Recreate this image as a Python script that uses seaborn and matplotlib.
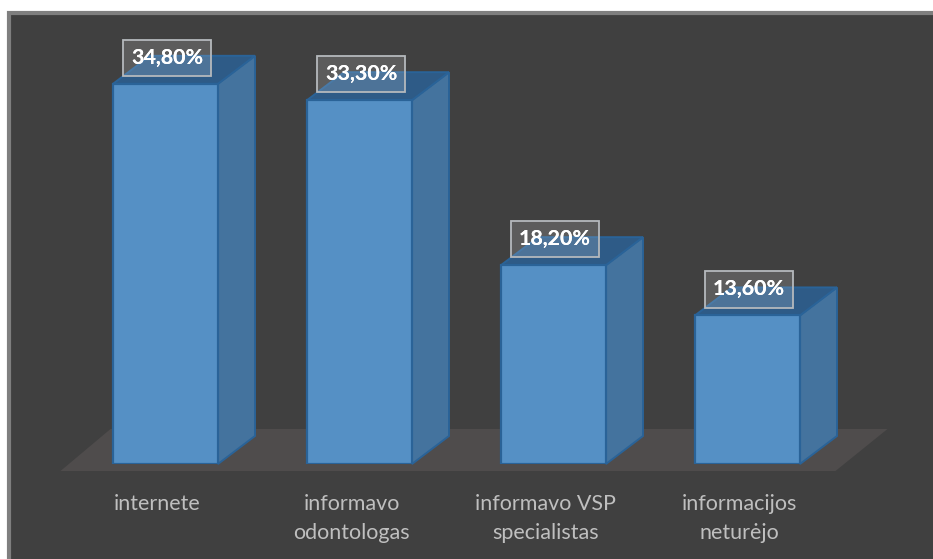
import matplotlib
matplotlib.use("Agg")
import matplotlib.pyplot as plt
import numpy as np
import pandas as pd
import seaborn as sns
from matplotlib.patches import Polygon, Rectangle

categories = ["internete", "informavo\nodontologas", "informavo VSP\nspecialistas", "informacijos\nneturėjo"]
values = [34.8, 33.3, 18.2, 13.6]
value_labels = ["34,80%", "33,30%", "18,20%", "13,60%"]

W, H = 933, 559
BG = "#404040"

sns.set_theme(style="white")
plt.rcParams["font.family"] = ["Lato", "DejaVu Sans"]

fig = plt.figure(figsize=(W / 100, H / 100), dpi=100, facecolor="white")

# dark panel, only left and top border visible
fig.add_artist(Rectangle((8.5 / W, 1 - 12.5 / H), 1, -1, transform=fig.transFigure,
                         facecolor=BG, edgecolor="#7f7f7f", linewidth=3, zorder=-1))

# axes placed so that 1 category = 194 px and y=0 sits on the bars' base
ax = fig.add_axes([68.5 / W, 1 - 464 / H, 776 / W, 437 / H])
ax.patch.set_alpha(0)

df = pd.DataFrame({"cat": categories, "val": values})
sns.barplot(data=df, x="cat", y="val", ax=ax, color="#5590c5", saturation=1,
            width=0.541, edgecolor="#2a6398", linewidth=1.6, zorder=5)
ax.set_xlim(-0.5, 3.5)
ax.set_ylim(0, 40)

# depth of the fake 3d, in data units
dx = 37 / 194
dy = 28 / (437 / 40)

# floor
ax.add_patch(Polygon([(-0.5 - 8 / 194, -7 / 10.925), (3.5 - 9 / 194, -7 / 10.925),
                      (3.5 + 43 / 194, 35 / 10.925), (-0.5 + 42 / 194, 35 / 10.925)],
                     closed=True, facecolor="#4f4c4c", edgecolor="none", clip_on=False, zorder=1))

for bar, label in zip(ax.patches[:4], value_labels):
    x0 = bar.get_x()
    x1 = x0 + bar.get_width()
    top = bar.get_height()
    ax.add_patch(Polygon([(x1, 0), (x1 + dx, dy), (x1 + dx, top + dy), (x1, top)], closed=True,
                         facecolor="#44739e", edgecolor="#2a6398", linewidth=1.4, clip_on=False, zorder=3))
    ax.add_patch(Polygon([(x0, top), (x1, top), (x1 + dx, top + dy), (x0 + dx, top + dy)], closed=True,
                         facecolor="#2e5b87", edgecolor="#2a6398", linewidth=1.4, clip_on=False, zorder=3))
    ax.annotate(label, (x0 + bar.get_width() / 2, top), xytext=(1.5, 26), textcoords="offset pixels",
                ha="center", va="center", color="white", fontsize=15.4, fontweight="bold",
                annotation_clip=False, zorder=8,
                bbox=dict(boxstyle="square,pad=0.38", facecolor="white", alpha=0.15, edgecolor="none"))
    # box outline drawn on top of the translucent fill
    ax.annotate(label, (x0 + bar.get_width() / 2, top), xytext=(1.5, 26), textcoords="offset pixels",
                ha="center", va="center", color="white", fontsize=15.4, fontweight="bold",
                annotation_clip=False, zorder=9,
                bbox=dict(boxstyle="square,pad=0.38", facecolor="none", edgecolor="#b5b9bd", linewidth=1.3))

ax.set_xlabel("")
ax.set_ylabel("")
ax.set_yticks([])
# the category labels sit 8 px left of the bar centres in the original
ax.set_xticks(np.arange(len(categories)) - 8 / 194, categories)
ax.tick_params(axis="x", length=0, pad=21.5, colors="#bfbfbf", labelsize=15.5)
for t in ax.get_xticklabels():
    t.set_linespacing(1.6)
    t.set_va("top")
sns.despine(ax=ax, left=True, bottom=True)

fig.savefig("out.png", dpi=100)
